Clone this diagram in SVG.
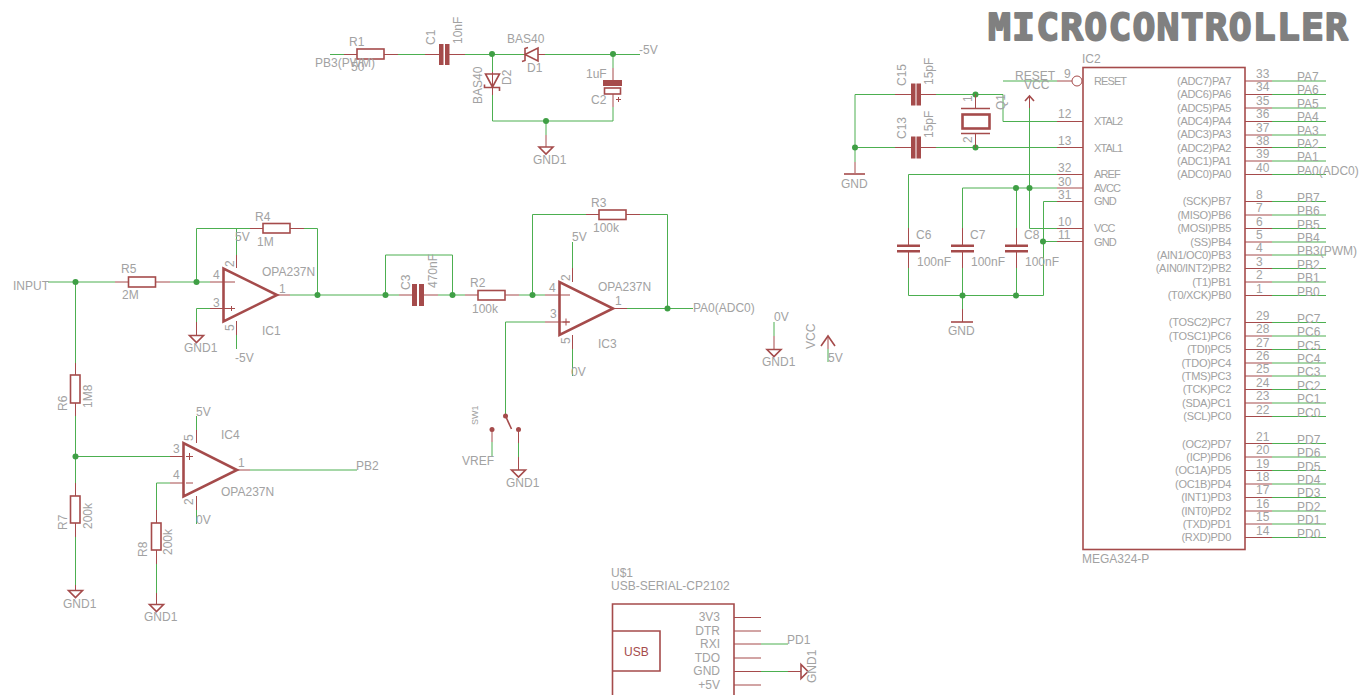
<svg xmlns="http://www.w3.org/2000/svg" width="1359" height="695" viewBox="0 0 1359 695">
<style>
text{font-family:"Liberation Sans",Arial,sans-serif;font-size:12px;fill:#a2a2a2}
.e{text-anchor:end}
.i{font-size:11px;letter-spacing:-.3px}
.l{font-size:11px;letter-spacing:-.9px}
.r{fill:#a54b4b}
.w{fill:none;stroke:#4caf50;stroke-width:1}
.p{fill:none;stroke:#a54b4b;stroke-width:1}
.b{fill:none;stroke:#a54b4b;stroke-width:1.6}
.o{fill:none;stroke:#a54b4b;stroke-width:2.6;stroke-linejoin:miter}
.f{fill:#a54b4b;stroke:none}
.j{fill:#3f9f45}
.title{font-family:"DejaVu Sans Mono",monospace;font-weight:bold;font-size:38px;fill:#808080;stroke:#808080;stroke-width:1.8;stroke-linejoin:round}
</style>
<rect width="1359" height="695" fill="#fff"/>
<g id="connectors">
<path class="w" d="M48 282H115M75.5 282V363M170 282H210M196.5 282V228.5H250M304 228.5H317.5V295M196.5 308.5H210M196.5 308.5V322M290 295H399M385.5 295V255H452.5V295M438 295H465"/>
<path class="w" d="M236.5 255V229M236.5 335V349"/>
<path class="w" d="M519 295H545M532.5 295V214.5H586M640 214.5H667.5V308.5M627 308.5H693M545 322H505.5V416M572.5 242V268M572.5 349V376"/>
<path class="w" d="M75.5 416V483M75.5 537V585M75 456.5H170M250 470H357M156.5 483H170M156.5 483V510M156.5 564V593M196.5 416V430M196.5 510V524"/>
<path class="w" d="M330 54.5H344M398 54.5H425M465 54.5H525M545 54.5H640M492.5 54.5V72M492.5 95V121H613V107M613 54.5V68M546 121V135"/>
<path class="w" d="M492 442V456M518.5 443V457M774 322V336M828 349V362"/>
<path class="w" d="M855 94.5H895M855 94.5V162M855 147.5H895M936 94.5H1003V121.5H1057M936 147.5H1057M1003 81H1057M1029.5 108V228.5H1057"/>
<path class="w" d="M908.5 174.5H1057M908.5 174.5V228M908.5 268V295.5H1043.5V201.5H1057M962.5 188H1057M962.5 188V228M962.5 268V309M1016.5 188V228M1016.5 268V295M1043.5 241.5H1057"/>
<path class="w" d="M761 644H788M761 671.5H788"/>
<path class="w" d="M1272 81H1326M1272 94.5H1326M1272 108H1326M1272 121.5H1326M1272 135H1326M1272 147.5H1326M1272 161H1326M1272 174.5H1326M1272 201.5H1326M1272 215H1326M1272 228.5H1326M1272 242H1326M1272 255H1326M1272 268.5H1326M1272 282H1326M1272 295.5H1326M1272 322.5H1326M1272 336H1326M1272 349.5H1326M1272 363H1326M1272 376H1326M1272 389.5H1326M1272 403H1326M1272 416.5H1326M1272 443.5H1326M1272 457H1326M1272 470.5H1326M1272 484H1326M1272 497.5H1326M1272 511H1326M1272 524H1326M1272 537.5H1326"/>
<g class="j">
<circle cx="75.5" cy="282" r="3"/><circle cx="196.5" cy="282" r="3"/><circle cx="317.5" cy="295" r="3"/><circle cx="385.5" cy="295" r="3"/><circle cx="452.5" cy="295" r="3"/><circle cx="532.5" cy="295" r="3"/><circle cx="667.5" cy="308.5" r="3"/><circle cx="75.5" cy="456.5" r="3"/><circle cx="492" cy="54" r="3"/><circle cx="613" cy="54" r="3"/><circle cx="546" cy="121" r="3"/><circle cx="855" cy="147.5" r="3"/><circle cx="975.5" cy="94.5" r="3"/><circle cx="975.5" cy="147.5" r="3"/><circle cx="1016" cy="188" r="3"/><circle cx="1029.5" cy="188" r="3"/><circle cx="1043" cy="241.5" r="3"/><circle cx="962.5" cy="295.5" r="3"/><circle cx="1016" cy="295.5" r="3"/>
</g>
</g>
<text class="title" x="988" y="40" textLength="360" lengthAdjust="spacing">MICROCONTROLLER</text>
<g id="R1"><path class="p" d="M344 54.5H357M384 54.5H398"/><rect class="b" x="357" y="49" width="27" height="10"/><text x="349" y="46">R1</text><text x="351" y="71">50</text><text x="315" y="67">PB3(PWM)</text></g>
<g id="C1"><path class="p" d="M425 54.5H439M449 54.5H465"/><rect class="f" x="439" y="44" width="4.5" height="21"/><rect class="f" x="445" y="44" width="4.5" height="21"/><text transform="rotate(-90 435 45)" x="435" y="45">C1</text><text transform="rotate(-90 462 44)" x="462" y="44">10nF</text></g>
<g id="D1"><path class="p" d="M538 54.5H545"/><path class="b" d="M525 54.5L538 48V61ZM528 47.5L525 48.5V60.5L522 61.5"/><text x="507" y="43">BAS40</text><text x="527" y="72">D1</text></g>
<g id="D2"><path class="p" d="M492.5 72V95"/><path class="b" d="M492.5 87L485.5 74H499.5ZM484.5 84.5V87.5H499.5V91"/><text transform="rotate(-90 482 104)" x="482" y="104">BAS40</text><text transform="rotate(-90 511 85)" x="511" y="85">D2</text></g>
<g id="C2"><path class="p" d="M613 68V80M613 94V107"/><rect class="f" x="603" y="80" width="19" height="6"/><rect class="b" x="604.5" y="88" width="16" height="6"/><path class="p" d="M616 99.5H621M618.5 97V102"/><text x="586" y="78">1uF</text><text x="591" y="104">C2</text><text x="639" y="54">-5V</text></g>
<g id="GND1a"><path class="p" d="M546 135V147"/><path class="b" d="M539 147H553L546 154Z"/><text x="533" y="164">GND1</text></g>
<g id="R5"><path class="p" d="M115 282H128M156 282H170"/><rect class="b" x="128.5" y="277" width="27" height="10"/><text x="121" y="273">R5</text><text x="122" y="299">2M</text><text x="13" y="290">INPUT</text></g>
<g id="R4"><path class="p" d="M250 228.5H263M290 228.5H304"/><rect class="b" x="263" y="223.5" width="27" height="9.5"/><text x="255" y="221">R4</text><text x="257" y="246">1M</text></g>
<g id="IC1"><path class="p" d="M210 282H235M210 308.5H235M277 295H290M236.5 255V268M236.5 321V335M229.5 308.5H233.5M231.5 306V311"/><path class="o" d="M223.5 268.5V321.5L277 295Z"/><text x="213" y="279">4</text><text x="213" y="307">3</text><text x="279" y="293">1</text><text transform="rotate(-90 234 267)" x="234" y="267">2</text><text transform="rotate(-90 234 331)" x="234" y="331">5</text><text x="262" y="276">OPA237N</text><text x="262" y="335">IC1</text><text x="235" y="241">5V</text><text x="235" y="362">-5V</text></g>
<g id="GND1b"><path class="p" d="M196.5 322V335"/><path class="b" d="M189.5 335.5H203.5L196.5 342.5Z"/><text x="184" y="352">GND1</text></g>
<g id="C3"><path class="p" d="M399 295H412M424 295H438"/><rect class="f" x="412" y="284" width="5" height="22"/><rect class="f" x="419" y="284" width="5" height="22"/><text transform="rotate(-90 410 290)" x="410" y="290">C3</text><text transform="rotate(-90 437 288)" x="437" y="288">470nF</text></g>
<g id="R2"><path class="p" d="M465 295H478M505 295H519"/><rect class="b" x="478" y="290.5" width="27" height="9.5"/><text x="470" y="287">R2</text><text x="472" y="313">100k</text></g>
<g id="R3"><path class="p" d="M586 214.5H599M626 214.5H640"/><rect class="b" x="599" y="210" width="27" height="9.5"/><text x="591" y="207">R3</text><text x="593" y="232">100k</text></g>
<g id="IC3"><path class="p" d="M545 295H570M545 322H570M613 308.5H627M572.5 268V282M572.5 335V349M562.5 322H569.5M566 318.5V325.5"/><path class="o" d="M559.5 282V335L613 308.5Z"/><text x="549" y="292">4</text><text x="550" y="318">3</text><text x="615" y="305">1</text><text transform="rotate(-90 570 281)" x="570" y="281">2</text><text transform="rotate(-90 570 344)" x="570" y="344">5</text><text x="598" y="291">OPA237N</text><text x="598" y="348">IC3</text><text x="572" y="241">5V</text><text x="571" y="376">0V</text><text x="693" y="312">PA0(ADC0)</text></g>
<g id="SW1"><circle class="r" cx="505.5" cy="416" r="2.5"/><circle class="r" cx="492" cy="429.5" r="2.5"/><circle class="r" cx="518.5" cy="429.5" r="2.5"/><path class="b" d="M505.5 416L511.5 429"/><path class="p" d="M492 429V442M518.5 429V443M518.5 457V470"/><path class="b" d="M511.5 470H525.5L518.5 477Z"/><text transform="rotate(-90 478 425)" x="478" y="425" style="font-size:9px">SW1</text><text x="462" y="465">VREF</text><text x="506" y="487">GND1</text></g>
<g id="GND0V"><path class="p" d="M774 336V349"/><path class="b" d="M767 349.5H781L774 356.5Z"/><text x="774" y="321">0V</text><text x="762" y="366">GND1</text></g>
<g id="VCC5V"><path class="p" d="M828 336V349"/><path class="b" d="M821 346L828 336L835 346"/><text transform="rotate(-90 815 349)" x="815" y="349">VCC</text><text x="828" y="362">5V</text></g>
<g id="R6"><path class="p" d="M75.5 363V375M75.5 403V416"/><rect class="b" x="70.5" y="375" width="9.5" height="28"/><text transform="rotate(-90 67 411)" x="67" y="411">R6</text><text transform="rotate(-90 92 408)" x="92" y="408">1M8</text></g>
<g id="R7"><path class="p" d="M75.5 483V496M75.5 523V537M75.5 585V590"/><rect class="b" x="70.5" y="496" width="9.5" height="27"/><text transform="rotate(-90 67 530)" x="67" y="530">R7</text><text transform="rotate(-90 92 529)" x="92" y="529">200k</text></g>
<g id="GND1c"><path class="b" d="M68.5 590.5H82.5L75.5 597.5Z"/><text x="63" y="608">GND1</text></g>
<g id="R8"><path class="p" d="M156.5 510V523M156.5 550V564M156.5 593V604"/><rect class="b" x="151.5" y="523" width="9.5" height="27"/><path class="b" d="M149.5 604.5H163.5L156.5 611.5Z"/><text transform="rotate(-90 147 557)" x="147" y="557">R8</text><text transform="rotate(-90 172 555)" x="172" y="555">200k</text><text x="144" y="621">GND1</text></g>
<g id="IC4"><path class="p" d="M170 456.5H183M170 483H183M237 470H250M196.5 430V443M196.5 496V510M186 483H193M186 456.5H193M189.5 453V460"/><path class="o" d="M183.5 443V496.5L237 470Z"/><text x="173" y="453">3</text><text x="173" y="479">4</text><text x="238" y="467">1</text><text transform="rotate(-90 193 441)" x="193" y="441">5</text><text transform="rotate(-90 193 505)" x="193" y="505">2</text><text x="221" y="439">IC4</text><text x="221" y="496">OPA237N</text><text x="196" y="416">5V</text><text x="196" y="524">0V</text><text x="356" y="470">PB2</text></g>
<g id="U1"><path class="b" d="M612.5 700V604H734V700M612.5 631H660V671H612.5"/><text x="624" y="656" style="fill:#a54b4b">USB</text><path class="p" d="M734 617.5H761M734 631H761M734 644H761M734 658H761M734 671.5H761M734 685H761M788 671.5H801"/><path class="b" d="M801 664.5V678.5L808 671.5Z"/><text x="611" y="577">U$1</text><text x="611" y="590">USB-SERIAL-CP2102</text><text class="e" x="720" y="621">3V3</text><text class="e" x="720" y="635">DTR</text><text class="e" x="720" y="648">RXI</text><text class="e" x="720" y="662">TDO</text><text class="e" x="720" y="675">GND</text><text class="e" x="720" y="689">+5V</text><text x="787" y="644">PD1</text><text transform="rotate(-90 816 683)" x="816" y="683">GND1</text></g>
<g id="C15"><path class="p" d="M895 94.5H911M920 94.5H936"/><rect class="f" x="911" y="83.5" width="4.5" height="22"/><rect class="f" x="916.5" y="83.5" width="4.5" height="22"/><text transform="rotate(-90 906 86)" x="906" y="86">C15</text><text transform="rotate(-90 933 85)" x="933" y="85">15pF</text></g>
<g id="C13"><path class="p" d="M895 147.5H911M920 147.5H936"/><rect class="f" x="911" y="136.5" width="4.5" height="22"/><rect class="f" x="916.5" y="136.5" width="4.5" height="22"/><text transform="rotate(-90 906 139)" x="906" y="139">C13</text><text transform="rotate(-90 933 138)" x="933" y="138">15pF</text></g>
<g id="Q1"><path class="p" d="M975.5 94.5V108M975.5 134V147.5"/><path class="b" d="M961 108.5H990M961 133.5H990"/><rect class="o" x="962.5" y="114.5" width="27" height="14"/><text transform="rotate(-90 972 102)" x="972" y="102">1</text><text transform="rotate(-90 972 143)" x="972" y="143">2</text><text transform="rotate(-90 1005 110)" x="1005" y="110">Q1</text></g>
<g id="GNDa"><path class="p" d="M855 162V173"/><path class="b" d="M844 174H865"/><text x="841" y="188">GND</text></g>
<g id="VCCa"><path class="p" d="M1029.5 96V108"/><path class="b" d="M1025 101L1029.5 96L1034 101"/><text x="1024" y="89">VCC</text></g>
<g id="C6"><path class="p" d="M908.5 228V245M908.5 251V268"/><rect class="f" x="897" y="244.5" width="23" height="2.5"/><rect class="f" x="897" y="250" width="23" height="2.5"/><text x="916" y="239">C6</text><text x="917" y="266">100nF</text></g>
<g id="C7"><path class="p" d="M962.5 228V245M962.5 251V268"/><rect class="f" x="951" y="244.5" width="23" height="2.5"/><rect class="f" x="951" y="250" width="23" height="2.5"/><text x="970" y="239">C7</text><text x="971" y="266">100nF</text></g>
<g id="C8"><path class="p" d="M1016.5 228V245M1016.5 251V268"/><rect class="f" x="1005" y="244.5" width="23" height="2.5"/><rect class="f" x="1005" y="250" width="23" height="2.5"/><text x="1024" y="239">C8</text><text x="1025" y="266">100nF</text></g>
<g id="GNDb"><path class="p" d="M962.5 309V322"/><path class="b" d="M951 322H973"/><text x="948" y="335">GND</text></g>
<g id="IC2">
<rect class="b" x="1083" y="67.5" width="162" height="482"/>
<circle cx="1077" cy="81" r="5" fill="#fff" stroke="#a54b4b"/>
<path class="p" d="M1057 81H1072M1057 121.5H1083M1057 147.5H1083M1057 174.5H1083M1057 188H1083M1057 201.5H1083M1057 228.5H1083M1057 241.5H1083"/>
<path class="p" d="M1245 81H1272M1245 94.5H1272M1245 108H1272M1245 121.5H1272M1245 135H1272M1245 147.5H1272M1245 161H1272M1245 174.5H1272M1245 201.5H1272M1245 215H1272M1245 228.5H1272M1245 242H1272M1245 255H1272M1245 268.5H1272M1245 282H1272M1245 295.5H1272M1245 322.5H1272M1245 336H1272M1245 349.5H1272M1245 363H1272M1245 376H1272M1245 389.5H1272M1245 403H1272M1245 416.5H1272M1245 443.5H1272M1245 457H1272M1245 470.5H1272M1245 484H1272M1245 497.5H1272M1245 511H1272M1245 524H1272M1245 537.5H1272"/>
<text x="1082" y="63">IC2</text><text x="1082" y="563">MEGA324-P</text><text x="1015" y="80">RESET</text>
<text x="1064" y="78">9</text><text x="1058" y="118">12</text><text x="1058" y="145">13</text><text x="1058" y="172">32</text><text x="1058" y="186">30</text><text x="1058" y="199">31</text><text x="1058" y="226">10</text><text x="1058" y="239">11</text>
<text class="l" x="1094" y="85">RESET</text><text class="l" x="1094" y="124.5">XTAL2</text><text class="l" x="1094" y="151.5">XTAL1</text><text class="l" x="1094" y="178">AREF</text><text class="l" x="1094" y="192">AVCC</text><text class="l" x="1094" y="205">GND</text><text class="l" x="1094" y="232">VCC</text><text class="l" x="1094" y="246">GND</text>
<text class="e i" x="1231" y="85">(ADC7)PA7</text><text class="e i" x="1231" y="98">(ADC6)PA6</text><text class="e i" x="1231" y="112">(ADC5)PA5</text><text class="e i" x="1231" y="125">(ADC4)PA4</text><text class="e i" x="1231" y="138">(ADC3)PA3</text><text class="e i" x="1231" y="152">(ADC2)PA2</text><text class="e i" x="1231" y="165">(ADC1)PA1</text><text class="e i" x="1231" y="178">(ADC0)PA0</text>
<text class="e i" x="1231" y="205">(SCK)PB7</text><text class="e i" x="1231" y="219">(MISO)PB6</text><text class="e i" x="1231" y="232">(MOSI)PB5</text><text class="e i" x="1231" y="246">(SS)PB4</text><text class="e i" x="1231" y="259">(AIN1/OC0)PB3</text><text class="e i" x="1231" y="272">(AIN0/INT2)PB2</text><text class="e i" x="1231" y="286">(T1)PB1</text><text class="e i" x="1231" y="299">(T0/XCK)PB0</text>
<text class="e i" x="1231" y="326">(TOSC2)PC7</text><text class="e i" x="1231" y="340">(TOSC1)PC6</text><text class="e i" x="1231" y="353">(TDI)PC5</text><text class="e i" x="1231" y="367">(TDO)PC4</text><text class="e i" x="1231" y="380">(TMS)PC3</text><text class="e i" x="1231" y="393">(TCK)PC2</text><text class="e i" x="1231" y="407">(SDA)PC1</text><text class="e i" x="1231" y="420">(SCL)PC0</text>
<text class="e i" x="1231" y="448">(OC2)PD7</text><text class="e i" x="1231" y="461">(ICP)PD6</text><text class="e i" x="1231" y="474">(OC1A)PD5</text><text class="e i" x="1231" y="488">(OC1B)PD4</text><text class="e i" x="1231" y="501">(INT1)PD3</text><text class="e i" x="1231" y="515">(INT0)PD2</text><text class="e i" x="1231" y="528">(TXD)PD1</text><text class="e i" x="1231" y="541">(RXD)PD0</text>
<text x="1256" y="78">33</text><text x="1256" y="91">34</text><text x="1256" y="105">35</text><text x="1256" y="118">36</text><text x="1256" y="132">37</text><text x="1256" y="145">38</text><text x="1256" y="158">39</text><text x="1256" y="172">40</text>
<text x="1256" y="199">8</text><text x="1256" y="212">7</text><text x="1256" y="226">6</text><text x="1256" y="239">5</text><text x="1256" y="252">4</text><text x="1256" y="266">3</text><text x="1256" y="279">2</text><text x="1256" y="293">1</text>
<text x="1256" y="320">29</text><text x="1256" y="333">28</text><text x="1256" y="347">27</text><text x="1256" y="360">26</text><text x="1256" y="373">25</text><text x="1256" y="387">24</text><text x="1256" y="400">23</text><text x="1256" y="414">22</text>
<text x="1256" y="441">21</text><text x="1256" y="454">20</text><text x="1256" y="468">19</text><text x="1256" y="481">18</text><text x="1256" y="494">17</text><text x="1256" y="508">16</text><text x="1256" y="521">15</text><text x="1256" y="535">14</text>
<text x="1297" y="81">PA7</text><text x="1297" y="94">PA6</text><text x="1297" y="108">PA5</text><text x="1297" y="121">PA4</text><text x="1297" y="135">PA3</text><text x="1297" y="148">PA2</text><text x="1297" y="161">PA1</text><text x="1297" y="175">PA0(ADC0)</text>
<text x="1297" y="202">PB7</text><text x="1297" y="215">PB6</text><text x="1297" y="229">PB5</text><text x="1297" y="242">PB4</text><text x="1297" y="255">PB3(PWM)</text><text x="1297" y="269">PB2</text><text x="1297" y="282">PB1</text><text x="1297" y="296">PB0</text>
<text x="1297" y="323">PC7</text><text x="1297" y="336">PC6</text><text x="1297" y="350">PC5</text><text x="1297" y="363">PC4</text><text x="1297" y="376">PC3</text><text x="1297" y="390">PC2</text><text x="1297" y="403">PC1</text><text x="1297" y="417">PC0</text>
<text x="1297" y="444">PD7</text><text x="1297" y="457">PD6</text><text x="1297" y="471">PD5</text><text x="1297" y="484">PD4</text><text x="1297" y="497">PD3</text><text x="1297" y="511">PD2</text><text x="1297" y="524">PD1</text><text x="1297" y="538">PD0</text>
</g>
</svg>
